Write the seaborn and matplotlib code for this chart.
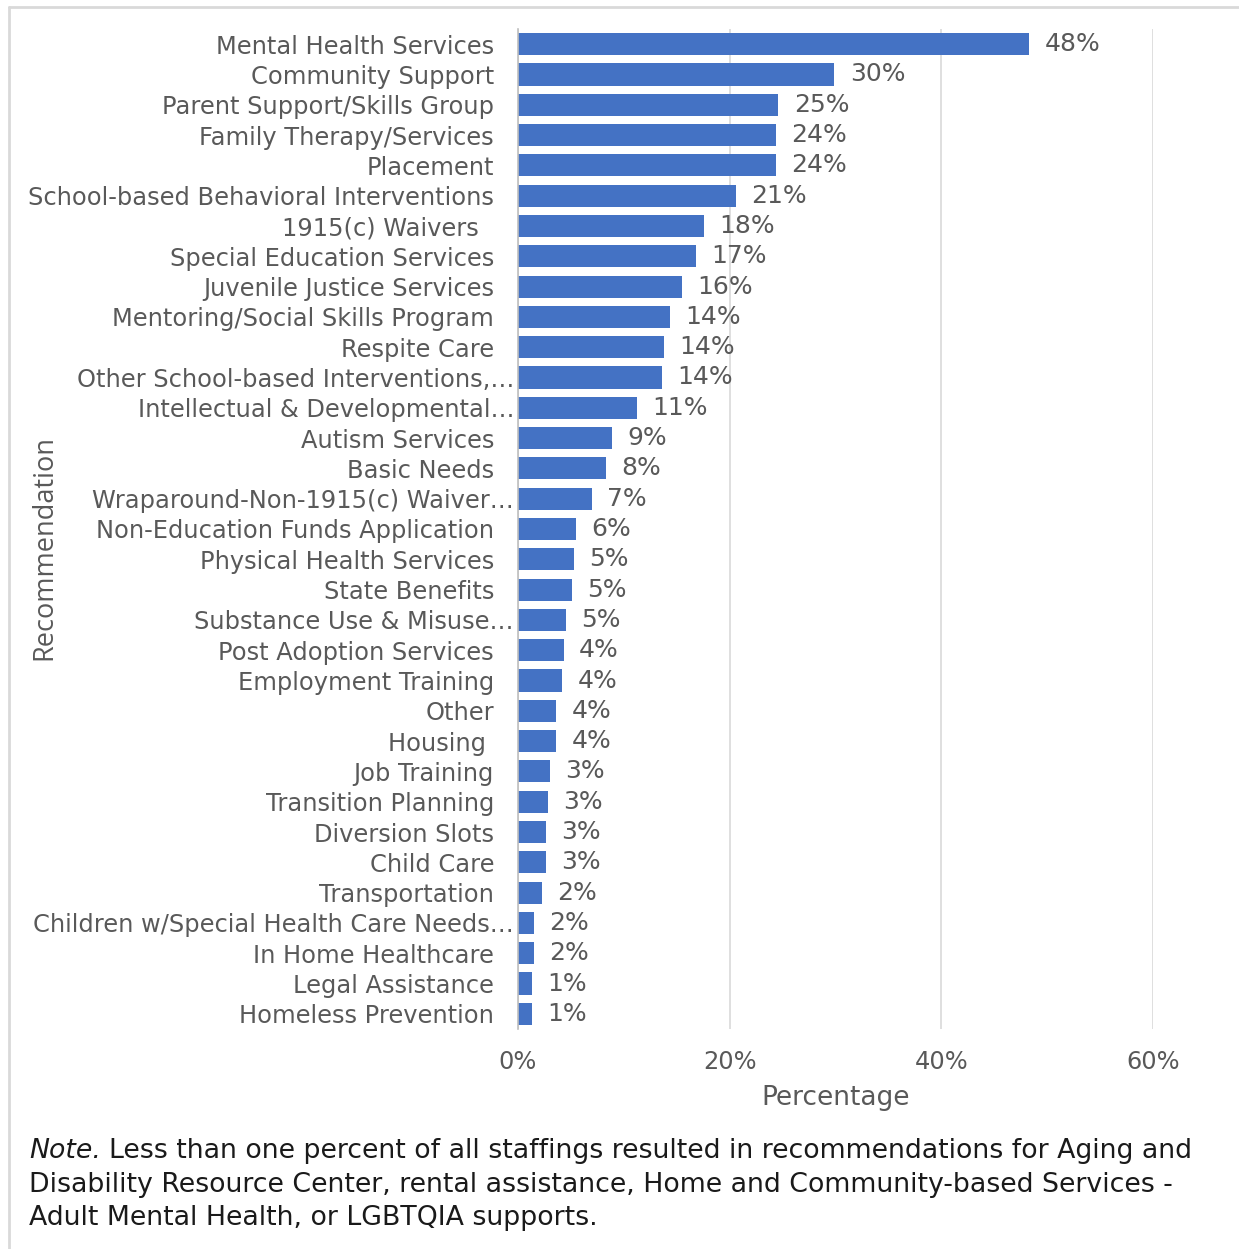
import matplotlib
matplotlib.use("Agg")
import matplotlib.pyplot as plt
import seaborn as sns
import pandas as pd
from matplotlib.ticker import PercentFormatter

# Recommendations, top to bottom (trailing blanks as in the source sheet)
categories = [
    "Mental Health Services", "Community Support", "Parent Support/Skills Group",
    "Family Therapy/Services", "Placement", "School-based Behavioral Interventions",
    "1915(c) Waivers  ", "Special Education Services", "Juvenile Justice Services",
    "Mentoring/Social Skills Program", "Respite Care",
    "Other School-based Interventions,\u2026", "Intellectual & Developmental\u2026",
    "Autism Services", "Basic Needs", "Wraparound-Non-1915(c) Waiver\u2026",
    "Non-Education Funds Application", "Physical Health Services", "State Benefits",
    "Substance Use & Misuse\u2026", "Post Adoption Services", "Employment Training",
    "Other", "Housing ", "Job Training", "Transition Planning", "Diversion Slots",
    "Child Care", "Transportation", "Children w/Special Health Care Needs\u2026",
    "In Home Healthcare", "Legal Assistance", "Homeless Prevention",
]
values = [
    48.3, 29.9, 24.6, 24.4, 24.4, 20.6, 17.6, 16.8, 15.5, 14.4, 13.8, 13.6, 11.2,
    8.9, 8.3, 7.0, 5.5, 5.3, 5.1, 4.5, 4.3, 4.2, 3.6, 3.6, 3.0, 2.8, 2.6, 2.6,
    2.3, 1.5, 1.5, 1.3, 1.3,
]
labels = [
    "48%", "30%", "25%", "24%", "24%", "21%", "18%", "17%", "16%", "14%", "14%",
    "14%", "11%", "9%", "8%", "7%", "6%", "5%", "5%", "5%", "4%", "4%", "4%",
    "4%", "3%", "3%", "3%", "3%", "2%", "2%", "2%", "1%", "1%",
]
x_ticks = [0, 20, 40, 60]

note_lead = "Note."
note_lines = [
    "Less than one percent of all staffings resulted in recommendations for Aging and",
    "Disability Resource Center, rental assistance, Home and Community-based Services -",
    "Adult Mental Health, or LGBTQIA supports.",
]

df = pd.DataFrame({"Recommendation": categories, "Percentage": values})

sns.set_style("white")
plt.rcParams["font.family"] = ["DejaVu Sans"]
grey = "#595959"
fs = 17.4

fig = plt.figure(figsize=(12.39, 12.49), dpi=100)
ax_w = 1153 - 518
ax = fig.add_axes([518 / 1239, 1 - 1029 / 1249, ax_w / 1239, 1000 / 1249])

sns.barplot(data=df, x="Percentage", y="Recommendation", color="#4472C4",
            saturation=1, width=0.73, linewidth=0, ax=ax, orient="h")

ax.bar_label(ax.containers[0], labels=labels, padding=11, fontsize=18, color=grey)

ax.set_xlim(0, 60)
ax.set_xticks(x_ticks)
ax.xaxis.set_major_formatter(PercentFormatter(decimals=0))
ax.tick_params(axis="both", length=0, labelsize=fs, labelcolor=grey)
ax.tick_params(axis="x", pad=15)
ax.tick_params(axis="y", labelleft=False)

# category labels: truncated ones let the ellipsis run past the text edge
for pos, cat in zip(ax.get_yticks(), categories):
    edge = 514 if cat.endswith("\u2026") else 494
    ax.text(-(518 - edge) / ax_w, pos, cat, transform=ax.get_yaxis_transform(),
            ha="right", va="center_baseline", fontsize=fs, color=grey)

ax.set_axisbelow(True)
ax.xaxis.grid(True, color="#D9D9D9", linewidth=1.2)
ax.yaxis.grid(False)
for s in ["top", "right", "bottom"]:
    ax.spines[s].set_visible(False)
ax.spines["left"].set_color("#BFBFBF")
ax.spines["left"].set_linewidth(1.2)

ax.set_xlabel("Percentage", fontsize=19, color=grey, labelpad=8)
ax.set_ylabel("")
fig.text(44 / 1239, 1 - 548 / 1249, "Recommendation", rotation=90, ha="center",
         va="center", fontsize=19.5, color=grey, family=["Open Sans"])

# frame lines of the original chart box
fig.add_artist(plt.Line2D([9 / 1239, 1], [1 - 7 / 1249, 1 - 7 / 1249],
                          color="#D9D9D9", linewidth=2))
fig.add_artist(plt.Line2D([9 / 1239, 9 / 1239], [0, 1 - 7 / 1249],
                          color="#D9D9D9", linewidth=2))

# note under the chart, "Note." in italics followed by the plain text
nfs = 19.3
lead = fig.text(29 / 1239, 1 - 1151 / 1249, note_lead, fontsize=nfs,
                color="#1a1a1a", va="center", style="italic")
fig.canvas.draw()
bb = lead.get_window_extent()
fig.text(bb.x1 / 1239 + 8 / 1239, 1 - 1151 / 1249, note_lines[0], fontsize=nfs,
         color="#1a1a1a", va="center")
for y, line in zip([1185, 1218], note_lines[1:]):
    fig.text(29 / 1239, 1 - y / 1249, line, fontsize=nfs, color="#1a1a1a",
             va="center")

fig.savefig("out.png", dpi=100)
